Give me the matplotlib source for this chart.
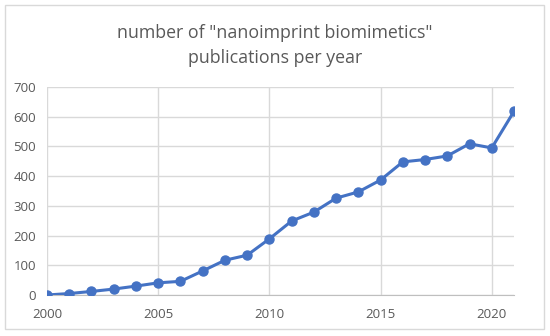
import matplotlib
matplotlib.use('Agg')
import matplotlib.pyplot as plt
from matplotlib.patches import Rectangle

years = [2000, 2001, 2002, 2003, 2004, 2005, 2006, 2007, 2008, 2009, 2010,
         2011, 2012, 2013, 2014, 2015, 2016, 2017, 2018, 2019, 2020, 2021]
counts = [0, 5, 12, 20, 30, 41, 46, 81, 117, 134, 189,
          249, 279, 326, 347, 387, 448, 456, 468, 509, 495, 618]
xticks = [2000, 2005, 2010, 2015, 2020]
yticks = [0, 100, 200, 300, 400, 500, 600, 700]

plt.rcParams['font.family'] = ['Open Sans', 'DejaVu Sans']
gray_text = '#595959'

fig = plt.figure(figsize=(5.5, 3.36), dpi=100)
# chart border
fig.patches.append(Rectangle((5 / 550, 1 - 329 / 336), 539 / 550, 324 / 336,
                             transform=fig.transFigure, fill=False,
                             edgecolor='#d9d9d9', linewidth=1))

ax = fig.add_axes([0.0855, 0.122, 0.849, 0.619])
ax.plot(years, counts, color='#4472C4', linewidth=2.2, marker='o',
        markersize=6.5, zorder=3)

ax.set_xlim(2000, 2021)
ax.set_ylim(0, 700)
ax.set_xticks(xticks)
ax.set_yticks(yticks)
ax.grid(True, color='#d9d9d9', linewidth=1)
ax.set_axisbelow(True)
for s in ['top', 'right', 'left']:
    ax.spines[s].set_visible(False)
ax.spines['bottom'].set_color('#bfbfbf')
ax.tick_params(length=0, labelsize=9.5, colors=gray_text)
ax.tick_params(axis='x', pad=9)
ax.tick_params(axis='y', pad=8)

fig.text(0.5, 0.866, 'number of "nanoimprint biomimetics"\npublications per year',
         ha='center', va='center', fontsize=12.8, color=gray_text,
         linespacing=1.5)

fig.savefig('out.png', dpi=100)
